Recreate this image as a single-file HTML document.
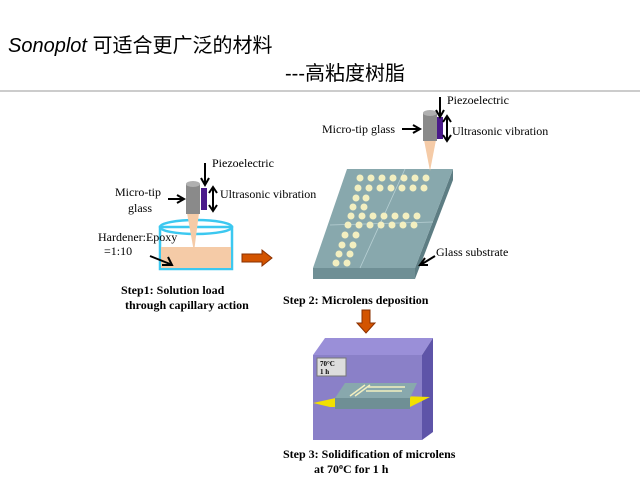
<!DOCTYPE html>
<html><head><meta charset="utf-8"><style>body{margin:0;background:#fff}svg{display:block}</style></head><body>
<svg width="640" height="480" viewBox="0 0 640 480" xmlns="http://www.w3.org/2000/svg" font-family="Liberation Serif, serif">
<text x="8" y="52" font-family="Liberation Sans, 'Noto Sans CJK SC', sans-serif" font-size="20" font-style="italic">Sonoplot <tspan font-style="normal" font-family="'Noto Sans CJK SC', sans-serif">可适合更广泛的材料</tspan></text>
<text x="285" y="80" font-family="Liberation Sans, 'Noto Sans CJK SC', sans-serif" font-size="20">---<tspan font-family="'Noto Sans CJK SC', sans-serif">高粘度树脂</tspan></text>
<line x1="0" y1="91" x2="640" y2="91" stroke="#999" stroke-width="1"/>

<!-- Step1 -->
<rect x="160" y="227" width="72" height="42" fill="#fff" stroke="#3cc8f0" stroke-width="2.5"/>
<rect x="161" y="247" width="70" height="21" fill="#f5cba7"/>
<ellipse cx="196" cy="227" rx="36" ry="7" fill="none" stroke="#3cc8f0" stroke-width="2.5"/>
<polygon points="187,213 199,213 194,252" fill="#f5cba7"/>
<rect x="186" y="184" width="14" height="30" fill="#8a8a8a"/>
<ellipse cx="193" cy="184" rx="7" ry="3" fill="#b0b0b0"/>
<rect x="201" y="188" width="6" height="22" fill="#4a1a8a"/>
<path d="M205 163 V184 M201 178 L205 185 L209 178" stroke="#000" stroke-width="2" fill="none"/>
<path d="M213 188 V210 M209 193 L213 187 L217 193 M209 205 L213 211 L217 205" stroke="#000" stroke-width="2" fill="none"/>
<path d="M168 199 H182 M177 195 L184 199 L177 203" stroke="#000" stroke-width="2" fill="none"/>
<path d="M150 256 L170 264 M162 265 L172 265 L168 257" stroke="#000" stroke-width="2" fill="none"/>
<g font-size="12">
<text x="212" y="167">Piezoelectric</text>
<text x="220" y="198">Ultrasonic vibration</text>
<text x="115" y="196">Micro-tip</text>
<text x="128" y="212">glass</text>
<text x="98" y="241">Hardener:Epoxy</text>
<text x="104" y="255">=1:10</text>
</g>
<polygon points="242,254 262,254 262,250 272,258 262,266 262,262 242,262" fill="#d35400" stroke="#8a3000"/>
<g font-size="12" font-weight="bold">
<text x="121" y="294">Step1: Solution load</text>
<text x="125" y="309">through capillary action</text>
</g>

<!-- Step2 substrate -->
<polygon points="313,268 415,268 415,279 313,279" fill="#6f8f95"/>
<polygon points="415,268 453,169 453,180 415,279" fill="#5d7d83"/>
<polygon points="347,169 453,169 415,268 313,268" fill="#88a8ad"/>
<line x1="360" y1="268" x2="405" y2="169" stroke="#b8d0d4" stroke-width="0.8"/>
<line x1="330" y1="225" x2="433" y2="222" stroke="#b8d0d4" stroke-width="0.8"/>
<g fill="#f3efc0">
<circle cx="360" cy="178" r="3.5"/><circle cx="371" cy="178" r="3.5"/><circle cx="382" cy="178" r="3.5"/><circle cx="393" cy="178" r="3.5"/><circle cx="404" cy="178" r="3.5"/><circle cx="415" cy="178" r="3.5"/><circle cx="426" cy="178" r="3.5"/>
<circle cx="358" cy="188" r="3.5"/><circle cx="369" cy="188" r="3.5"/><circle cx="380" cy="188" r="3.5"/><circle cx="391" cy="188" r="3.5"/><circle cx="402" cy="188" r="3.5"/><circle cx="413" cy="188" r="3.5"/><circle cx="424" cy="188" r="3.5"/>
<circle cx="356" cy="198" r="3.5"/><circle cx="366" cy="198" r="3.5"/>
<circle cx="353" cy="207" r="3.5"/><circle cx="364" cy="207" r="3.5"/>
<circle cx="351" cy="216" r="3.5"/><circle cx="362" cy="216" r="3.5"/><circle cx="373" cy="216" r="3.5"/><circle cx="384" cy="216" r="3.5"/><circle cx="395" cy="216" r="3.5"/><circle cx="406" cy="216" r="3.5"/><circle cx="417" cy="216" r="3.5"/>
<circle cx="348" cy="225" r="3.5"/><circle cx="359" cy="225" r="3.5"/><circle cx="370" cy="225" r="3.5"/><circle cx="381" cy="225" r="3.5"/><circle cx="392" cy="225" r="3.5"/><circle cx="403" cy="225" r="3.5"/><circle cx="414" cy="225" r="3.5"/>
<circle cx="345" cy="235" r="3.5"/><circle cx="356" cy="235" r="3.5"/>
<circle cx="342" cy="245" r="3.5"/><circle cx="353" cy="245" r="3.5"/>
<circle cx="339" cy="254" r="3.5"/><circle cx="350" cy="254" r="3.5"/>
<circle cx="336" cy="263" r="3.5"/><circle cx="347" cy="263" r="3.5"/>
</g>
<polygon points="424,140 436,140 430,171" fill="#f5cba7"/>
<rect x="423" y="113" width="14" height="28" fill="#8a8a8a"/>
<ellipse cx="430" cy="113" rx="7" ry="3" fill="#b0b0b0"/>
<rect x="437" y="117" width="6" height="22" fill="#4a1a8a"/>
<path d="M440 97 V116 M436 110 L440 117 L444 110" stroke="#000" stroke-width="2" fill="none"/>
<path d="M447 117 V140 M443 122 L447 116 L451 122 M443 135 L447 141 L451 135" stroke="#000" stroke-width="2" fill="none"/>
<path d="M402 129 H418 M413 125 L420 129 L413 133" stroke="#000" stroke-width="2" fill="none"/>
<path d="M435 256 L422 264 M425 258 L420 265 L428 265" stroke="#000" stroke-width="2" fill="none"/>
<g font-size="12">
<text x="447" y="104">Piezoelectric</text>
<text x="452" y="135">Ultrasonic vibration</text>
<text x="322" y="133">Micro-tip glass</text>
<text x="436" y="256">Glass substrate</text>
</g>
<text x="283" y="304" font-size="12" font-weight="bold">Step 2: Microlens deposition</text>
<polygon points="362,310 370,310 370,323 375,323 366,333 357,323 362,323" fill="#d35400" stroke="#8a3000"/>

<!-- Step3 oven -->
<polygon points="313,355 325,338 433,338 422,355" fill="#9a8fd8"/>
<polygon points="422,355 433,338 433,432 422,440" fill="#5e54a8"/>
<rect x="313" y="355" width="109" height="85" fill="#8a80c8"/>
<rect x="317" y="358" width="29" height="18" fill="#ddd" stroke="#777"/>
<text x="320" y="366" font-size="7" font-weight="bold">70°C</text>
<text x="320" y="374" font-size="7" font-weight="bold">1 h</text>
<polygon points="313,403 345,396 400,396 430,397 410,407 330,407" fill="#f2e000"/>
<polygon points="335,398 410,398 410,409 335,409" fill="#6f8f95"/>
<polygon points="345,383 417,383 410,398 335,398" fill="#88a8ad"/>
<g stroke="#f3efc0" stroke-width="1.5"><line x1="350" y1="396" x2="365" y2="385"/><line x1="355" y1="396" x2="370" y2="385"/><line x1="368" y1="387" x2="405" y2="387"/><line x1="366" y1="391" x2="402" y2="391"/></g>
<g font-size="12" font-weight="bold">
<text x="283" y="458">Step 3: Solidification of microlens</text>
<text x="314" y="473">at 70<tspan font-size="8" dy="-4">o</tspan><tspan dy="4">C for 1 h</tspan></text>
</g>
</svg>
</body></html>
